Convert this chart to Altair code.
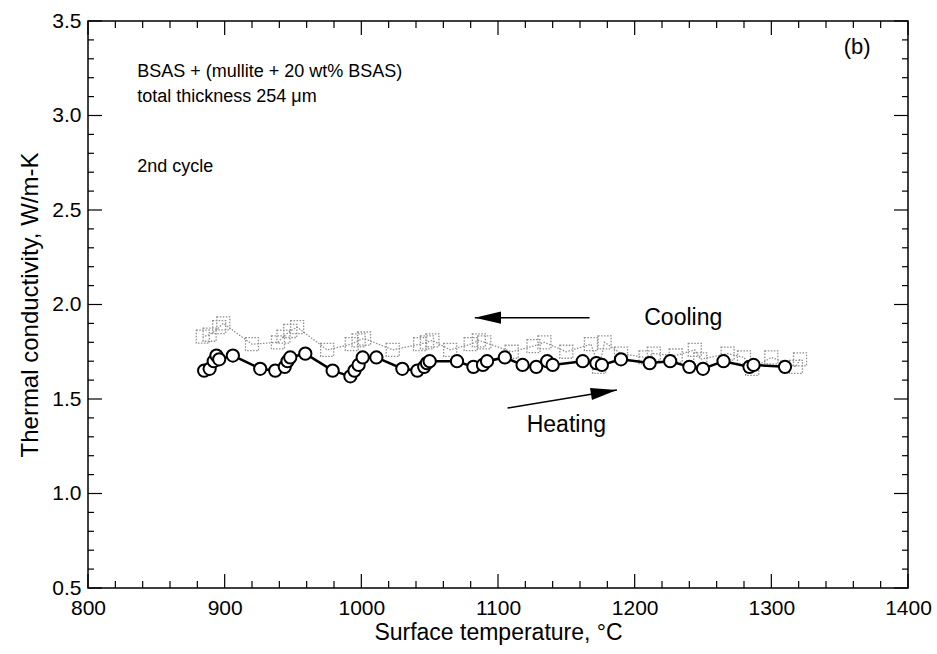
import altair as alt
import pandas as pd

# ---------------- data ----------------
heat_T = [885, 889, 892, 894, 896, 906, 926, 937, 944, 946, 948, 959, 979, 992, 995, 998,
          1001, 1011, 1030, 1041, 1046, 1048, 1050, 1070, 1082, 1089, 1092, 1105, 1118, 1128,
          1136, 1140, 1162, 1172, 1176, 1190, 1211, 1226, 1240, 1250, 1265, 1284, 1287, 1310]
heat_k = [1.65, 1.66, 1.70, 1.73, 1.71, 1.73, 1.66, 1.65, 1.67, 1.70, 1.72, 1.74, 1.65, 1.62,
          1.65, 1.68, 1.72, 1.72, 1.66, 1.65, 1.67, 1.69, 1.70, 1.70, 1.67, 1.68, 1.70, 1.72,
          1.68, 1.67, 1.70, 1.68, 1.70, 1.69, 1.68, 1.71, 1.69, 1.70, 1.67, 1.66, 1.70, 1.67,
          1.68, 1.67]

cool_T = [1321, 1318, 1300, 1286, 1280, 1268, 1248, 1244, 1230, 1214, 1208, 1190, 1178, 1174,
          1168, 1150, 1134, 1126, 1110, 1090, 1086, 1080, 1065, 1052, 1048, 1043, 1023, 1002,
          998, 993, 975, 953, 948, 943, 939, 920, 899, 896, 889, 884]
cool_k = [1.71, 1.67, 1.72, 1.66, 1.72, 1.74, 1.71, 1.76, 1.73, 1.74, 1.72, 1.74, 1.80, 1.67,
          1.79, 1.75, 1.80, 1.78, 1.75, 1.80, 1.81, 1.79, 1.76, 1.81, 1.80, 1.79, 1.76, 1.82,
          1.81, 1.79, 1.76, 1.88, 1.86, 1.83, 1.80, 1.79, 1.90, 1.88, 1.84, 1.83]

x_major = [800, 900, 1000, 1100, 1200, 1300, 1400]
x_minor = [820, 840, 860, 880, 920, 940, 960, 980, 1020, 1040, 1060, 1080, 1120, 1140, 1160,
           1180, 1220, 1240, 1260, 1280, 1320, 1340, 1360, 1380]
y_major = [0.5, 1.0, 1.5, 2.0, 2.5, 3.0, 3.5]
y_minor = [0.6, 0.7, 0.8, 0.9, 1.1, 1.2, 1.3, 1.4, 1.6, 1.7, 1.8, 1.9, 2.1, 2.2, 2.3, 2.4,
           2.6, 2.7, 2.8, 2.9, 3.1, 3.2, 3.3, 3.4]

notes_text = ["BSAS + (mullite + 20 wt% BSAS)", "total thickness 254 \u03bcm", "2nd cycle"]
notes_x = [836, 836, 836]
notes_y = [3.23, 3.10, 2.73]

panel_text = ["(b)"]
panel_x = [1353]
panel_y = [3.36]

arrow_names = ["Cooling", "Heating"]
arrow_x0 = [1167, 1107]
arrow_y0 = [1.93, 1.452]
arrow_x1 = [1083, 1187]
arrow_y1 = [1.93, 1.548]
arrow_angle = [180, 351]
label_x = [1207, 1121]
label_y = [1.93, 1.36]

# ---------------- layout ----------------
W, H = 820, 567
FONT = "Liberation Sans"

xs = alt.Scale(domain=[800, 1400], nice=False, zero=False)
ys = alt.Scale(domain=[0.5, 3.5], nice=False, zero=False)

heat = pd.DataFrame({"T": heat_T, "k": heat_k, "i": range(len(heat_T))})
cool = pd.DataFrame({"T": cool_T, "k": cool_k, "i": range(len(cool_T))})

base_x = alt.X("T:Q", scale=xs,
               axis=alt.Axis(title="Surface temperature, \u00b0C", values=x_major, format="d",
                             ticks=False, domain=False, grid=False, labelFontSize=21,
                             titleFontSize=23, labelFont=FONT, titleFont=FONT,
                             labelColor="black", titleColor="black", labelPadding=9,
                             titlePadding=3, titleFontWeight="normal", labelFlush=False))
base_y = alt.Y("k:Q", scale=ys,
               axis=alt.Axis(title="Thermal conductivity, W/m-K", values=y_major, format=".1f",
                             ticks=False, domain=False, grid=False, labelFontSize=21,
                             titleFontSize=24, labelFont=FONT, titleFont=FONT,
                             labelColor="black", titleColor="black", labelPadding=7,
                             titlePadding=9, titleFontWeight="normal", labelFlush=False))

cool_line = alt.Chart(cool).mark_line(color="#8f8f8f", strokeWidth=1.3, strokeDash=[1.5, 1.5]).encode(
    x=base_x, y=base_y, order="i:Q")
cool_pts = alt.Chart(cool).mark_point(shape="square", size=170, filled=False, color="#8f8f8f",
                                      strokeWidth=1.3, strokeDash=[1.5, 1.5], opacity=1).encode(
    x=alt.X("T:Q", scale=xs), y=alt.Y("k:Q", scale=ys))

heat_line = alt.Chart(heat).mark_line(color="black", strokeWidth=2.5).encode(
    x=alt.X("T:Q", scale=xs), y=alt.Y("k:Q", scale=ys), order="i:Q")
heat_pts = alt.Chart(heat).mark_point(shape="circle", size=150, filled=True, fill="white",
                                      stroke="black", strokeWidth=2, opacity=1).encode(
    x=alt.X("T:Q", scale=xs), y=alt.Y("k:Q", scale=ys))

# ticks (inward)
def xticks(vals, length):
    df = pd.DataFrame({"v": vals})
    bot = alt.Chart(df).mark_rule(color="black", strokeWidth=1.2).encode(
        x=alt.X("v:Q", scale=xs), y=alt.value(H), y2=alt.value(H - length))
    top = alt.Chart(df).mark_rule(color="black", strokeWidth=1.2).encode(
        x=alt.X("v:Q", scale=xs), y=alt.value(0), y2=alt.value(length))
    return bot + top

def yticks(vals, length):
    df = pd.DataFrame({"v": vals})
    left = alt.Chart(df).mark_rule(color="black", strokeWidth=1.2).encode(
        y=alt.Y("v:Q", scale=ys), x=alt.value(0), x2=alt.value(length))
    right = alt.Chart(df).mark_rule(color="black", strokeWidth=1.2).encode(
        y=alt.Y("v:Q", scale=ys), x=alt.value(W), x2=alt.value(W - length))
    return left + right

ticks = xticks(x_major, 14) + xticks(x_minor, 7) + yticks(y_major, 14) + yticks(y_minor, 6)

notes = alt.Chart(pd.DataFrame({"t": notes_text, "x": notes_x, "y": notes_y})).mark_text(
    align="left", baseline="middle", fontSize=18, font=FONT, color="black").encode(
    x=alt.X("x:Q", scale=xs), y=alt.Y("y:Q", scale=ys), text="t:N")
panel = alt.Chart(pd.DataFrame({"t": panel_text, "x": panel_x, "y": panel_y})).mark_text(
    align="left", baseline="middle", fontSize=22, font=FONT, color="black").encode(
    x=alt.X("x:Q", scale=xs), y=alt.Y("y:Q", scale=ys), text="t:N")

arrows_df = pd.DataFrame({"name": arrow_names, "x0": arrow_x0, "y0": arrow_y0,
                          "x1": arrow_x1, "y1": arrow_y1, "ang": arrow_angle,
                          "lx": label_x, "ly": label_y})
arrow_lines = alt.Chart(arrows_df).mark_rule(color="black", strokeWidth=1.6).encode(
    x=alt.X("x0:Q", scale=xs), y=alt.Y("y0:Q", scale=ys), x2="x1:Q", y2="y1:Q")
arrow_heads = alt.Chart(arrows_df).mark_point(
    shape="M 0 0 L -1.8 -0.42 L -1.8 0.42 Z", size=850, filled=True, color="black",
    opacity=1).encode(
    x=alt.X("x1:Q", scale=xs), y=alt.Y("y1:Q", scale=ys), angle=alt.Angle("ang:Q", scale=None))
arrow_labels = alt.Chart(arrows_df).mark_text(
    align="left", baseline="middle", fontSize=23, font=FONT, color="black").encode(
    x=alt.X("lx:Q", scale=xs), y=alt.Y("ly:Q", scale=ys), text="name:N")

chart = alt.layer(
    cool_line, cool_pts, heat_line, heat_pts, ticks, notes, panel,
    arrow_lines, arrow_heads, arrow_labels
).properties(
    width=W, height=H,
    autosize=alt.AutoSizeParams(type="none"),
    padding={"left": 88, "top": 21, "right": 29, "bottom": 66},
    background="white",
).configure_view(stroke="black", strokeWidth=1.5)

chart.save("out.html", embed_options={"renderer": "svg", "actions": False})
